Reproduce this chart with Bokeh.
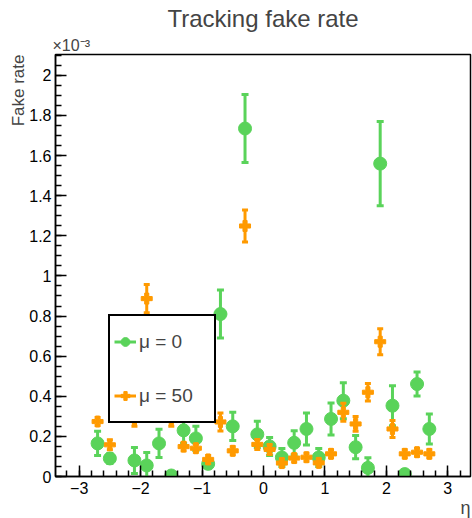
import numpy as np
from bokeh.plotting import figure
from bokeh.models import ColumnDataSource, FixedTicker, Legend, LegendItem, Title
from bokeh.embed import file_html
from bokeh.resources import INLINE

# ---- data (fake rate in units of 1e-3) ----
eta = [-2.7, -2.5, -2.3, -2.1, -1.9, -1.7, -1.5, -1.3, -1.1, -0.9, -0.7, -0.5, -0.3, -0.1,
       0.1, 0.3, 0.5, 0.7, 0.9, 1.1, 1.3, 1.5, 1.7, 1.9, 2.1, 2.3, 2.5, 2.7]
fake_mu0 = [0.165, 0.09, 0.45, 0.08, 0.055, 0.165, 0.005, 0.23, 0.19, 0.063, 0.81, 0.25, 1.735, 0.21,
            0.15, 0.095, 0.168, 0.237, 0.095, 0.287, 0.378, 0.146, 0.043, 1.56, 0.353, 0.012, 0.461, 0.237]
err_mu0 = [0.06, 0.025, 0.08, 0.065, 0.065, 0.07, 0.0, 0.065, 0.06, 0.02, 0.12, 0.07, 0.17, 0.065,
           0.045, 0.045, 0.06, 0.08, 0.045, 0.08, 0.09, 0.058, 0.05, 0.21, 0.1, 0.0, 0.06, 0.075]
fake_mu50 = [0.274, 0.158, 0.5, 0.28, 0.887, 0.4, 0.28, 0.149, 0.141, 0.085, 0.272, 0.128, 1.249, 0.16,
             0.135, 0.067, 0.092, 0.096, 0.068, 0.113, 0.32, 0.262, 0.42, 0.672, 0.237, 0.113, 0.121, 0.113]
err_mu50 = [0.02, 0.025, 0.05, 0.03, 0.07, 0.04, 0.03, 0.02, 0.02, 0.02, 0.045, 0.02, 0.08, 0.025,
            0.025, 0.02, 0.02, 0.02, 0.02, 0.02, 0.045, 0.037, 0.044, 0.065, 0.042, 0.02, 0.02, 0.02]

x_ticks = [-3, -2, -1, 0, 1, 2, 3]
x_tick_labels = ["\u22123", "\u22122", "\u22121", "0", "1", "2", "3"]
y_ticks = [0, 0.2, 0.4, 0.6, 0.8, 1.0, 1.2, 1.4, 1.6, 1.8, 2.0]
y_tick_labels = ["0", "0.2", "0.4", "0.6", "0.8", "1", "1.2", "1.4", "1.6", "1.8", "2"]

GREEN = "#5ad35a"
ORANGE = "#ff9a00"
FONT = "Liberation Sans"

p = figure(width=472, height=518, x_range=(-3.385, 3.37), y_range=(0, 2.104),
           output_backend="svg", toolbar_location=None,
           min_border_left=55, min_border_right=2, min_border_top=53, min_border_bottom=42)
p.title.text = "Tracking fake rate"
p.title.align = "center"
p.title.text_font = FONT
p.title.text_font_size = "24px"
p.title.text_font_style = "normal"
p.title.standoff = 4
p.grid.visible = False
p.background_fill_color = "white"
p.border_fill_color = "white"
p.outline_line_color = "black"
p.outline_line_width = 1.5

p.xaxis.ticker = FixedTicker(ticks=x_ticks, minor_ticks=[round(-3.4 + 0.2 * i, 1) for i in range(35)])
p.yaxis.ticker = FixedTicker(ticks=y_ticks, minor_ticks=[round(0.05 * i, 2) for i in range(43)])
p.xaxis.major_label_overrides = {t: l for t, l in zip(x_ticks, x_tick_labels)}
p.yaxis.major_label_overrides = {t: l for t, l in zip(y_ticks, y_tick_labels)}
for ax in (p.xaxis, p.yaxis):
    ax.major_tick_in = 11
    ax.major_tick_out = 0
    ax.minor_tick_in = 6
    ax.minor_tick_out = 0
    ax.axis_line_width = 1.5
    ax.major_tick_line_width = 1.5
    ax.minor_tick_line_width = 1.5
    ax.major_label_text_font = FONT
    ax.major_label_text_font_size = "16px"
    ax.major_label_text_color = "black"
p.xaxis.major_label_standoff = 5
p.yaxis.major_label_standoff = 4


def series(vals, errs, color, marker, msize, lw, cap):
    lo = [v - e for v, e in zip(vals, errs)]
    hi = [v + e for v, e in zip(vals, errs)]
    src = ColumnDataSource(dict(x=eta, y=vals, lo=lo, hi=hi))
    seg = p.segment(x0="x", y0="lo", x1="x", y1="hi", source=src, line_color=color, line_width=lw)
    p.scatter(x="x", y="hi", source=src, marker="dash", size=cap, line_color=color, line_width=lw)
    p.scatter(x="x", y="lo", source=src, marker="dash", size=cap, line_color=color, line_width=lw)
    r = p.scatter(x="x", y="y", source=src, marker=marker, size=msize, fill_color=color,
                  line_color=color, line_width=1)
    return r, seg


r0, s0 = series(fake_mu0, err_mu0, GREEN, "circle", 13, 3, 7)
r50, s50 = series(fake_mu50, err_mu50, ORANGE, "plus", 11, 3, 6)

legend = Legend(items=[LegendItem(label="\u03bc = 0", renderers=[s0, r0]),
                       LegendItem(label="\u03bc = 50", renderers=[s50, r50])],
                location=(53, 53), padding=4, spacing=11, glyph_width=22, glyph_height=43,
                label_standoff=3, label_width=71, label_text_font=FONT,
                label_text_font_size="19px", border_line_color="black", border_line_width=2,
                border_line_alpha=1.0,
                background_fill_color="white", background_fill_alpha=1.0, margin=0)
p.add_layout(legend, "center")

p.add_layout(Title(text="\u00d710\u207b\u00b3", align="left", offset=-3, standoff=2,
                   text_font=FONT, text_font_size="16px", text_font_style="normal"), "above")
p.add_layout(Title(text="Fake rate", align="right", standoff=-3,
                   text_font=FONT, text_font_size="17px", text_font_style="normal"), "left")
p.add_layout(Title(text="\u03b7", align="right", standoff=-1,
                   text_font=FONT, text_font_size="18px", text_font_style="normal"), "below")

open("out.html", "w").write(file_html(p, INLINE))
